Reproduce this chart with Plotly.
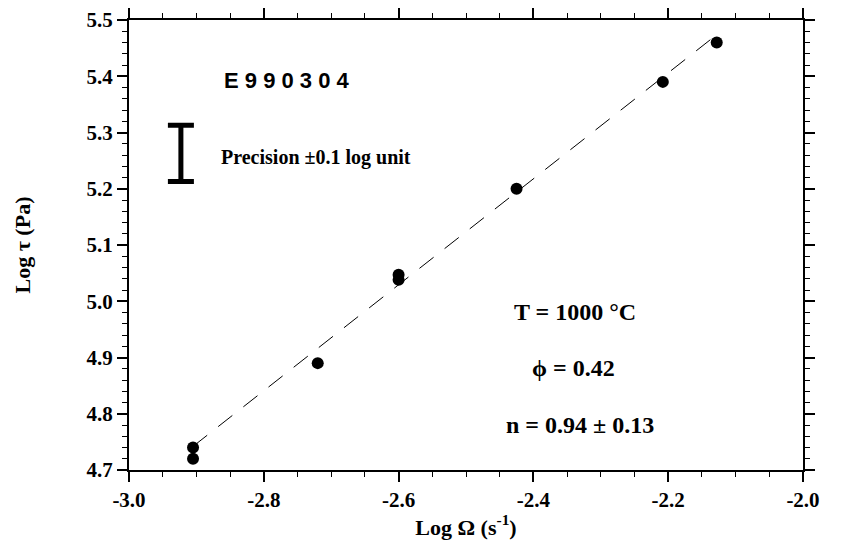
import plotly.graph_objects as go

# Data
log_omega = [-2.905, -2.905, -2.72, -2.60, -2.60, -2.425, -2.208, -2.128]
log_tau = [4.74, 4.72, 4.89, 5.047, 5.038, 5.20, 5.39, 5.46]

fit_x = [-2.905, -2.13]
fit_y = [4.742, 5.472]

precision_x = [-2.923]
precision_y = [5.263]
precision_half = [0.05]

x_tick_vals = [-3.0, -2.8, -2.6, -2.4, -2.2, -2.0]
x_tick_text = ["-3.0", "-2.8", "-2.6", "-2.4", "-2.2", "-2.0"]
y_tick_vals = [4.7, 4.8, 4.9, 5.0, 5.1, 5.2, 5.3, 5.4, 5.5]
y_tick_text = ["4.7", "4.8", "4.9", "5.0", "5.1", "5.2", "5.3", "5.4", "5.5"]

SERIF = "Liberation Serif"
SANS = "Liberation Sans"

fig = go.Figure()

fig.add_trace(go.Scatter(
    x=fit_x, y=fit_y, mode="lines",
    line=dict(color="black", width=1, dash="18px,14px"),
    showlegend=False, hoverinfo="skip"))

fig.add_trace(go.Scatter(
    x=log_omega, y=log_tau, mode="markers",
    marker=dict(color="black", size=12, symbol="circle"),
    showlegend=False))

fig.add_trace(go.Scatter(
    x=precision_x, y=precision_y, mode="markers",
    marker=dict(color="rgba(0,0,0,0)", size=1),
    error_y=dict(type="data", array=precision_half, symmetric=True,
                 color="black", thickness=5, width=13),
    showlegend=False, hoverinfo="skip"))

axis_common = dict(
    showline=True, linecolor="black", linewidth=2, mirror="allticks",
    ticks="outside", ticklen=10, tickwidth=1.5, tickcolor="black",
    showgrid=False, zeroline=False, automargin=False,
    tickfont=dict(family=SERIF, size=21, color="black", weight="bold"),
)

fig.update_xaxes(
    range=[-3.0, -2.0], tickmode="array", tickvals=x_tick_vals, ticktext=x_tick_text,
    minor=dict(dtick=0.05, tick0=-3.0, ticks="outside", ticklen=5, tickwidth=1.2, tickcolor="black", showgrid=False),
    title=dict(text="Log Ω (s<sup>-1</sup>)", font=dict(family=SERIF, size=22, color="black", weight="bold"), standoff=8),
    **axis_common)
fig.update_yaxes(
    range=[4.7, 5.5], tickmode="array", tickvals=y_tick_vals, ticktext=y_tick_text,
    minor=dict(dtick=0.02, tick0=4.7, ticks="outside", ticklen=5, tickwidth=1.2, tickcolor="black", showgrid=False),
    title=dict(text="Log τ (Pa)", font=dict(family=SERIF, size=22, color="black", weight="bold"), standoff=50),
    **axis_common)

annotations = [
    dict(x=-2.766, y=5.392, text="E 9 9 0 3 0 4", font=dict(family=SANS, size=22, color="black", weight="bold")),
    dict(x=-2.866, y=5.256, text="Precision ±0.1 log unit", font=dict(family=SERIF, size=20, color="black", weight="bold"), xanchor="left"),
    dict(x=-2.338, y=4.981, text="T = 1000 °C", font=dict(family=SERIF, size=24, color="black", weight="bold")),
    dict(x=-2.341, y=4.881, text="ϕ = 0.42", font=dict(family=SERIF, size=24, color="black", weight="bold")),
    dict(x=-2.331, y=4.780, text="n = 0.94 ± 0.13", font=dict(family=SERIF, size=24, color="black", weight="bold")),
]
for a in annotations:
    a.update(xref="x", yref="y", showarrow=False)
fig.update_layout(
    annotations=annotations,
    width=845, height=543,
    margin=dict(l=121, r=50, t=12, b=81),
    plot_bgcolor="white", paper_bgcolor="white",
    font=dict(family=SERIF, color="black"),
)

fig.write_html("out.html")
